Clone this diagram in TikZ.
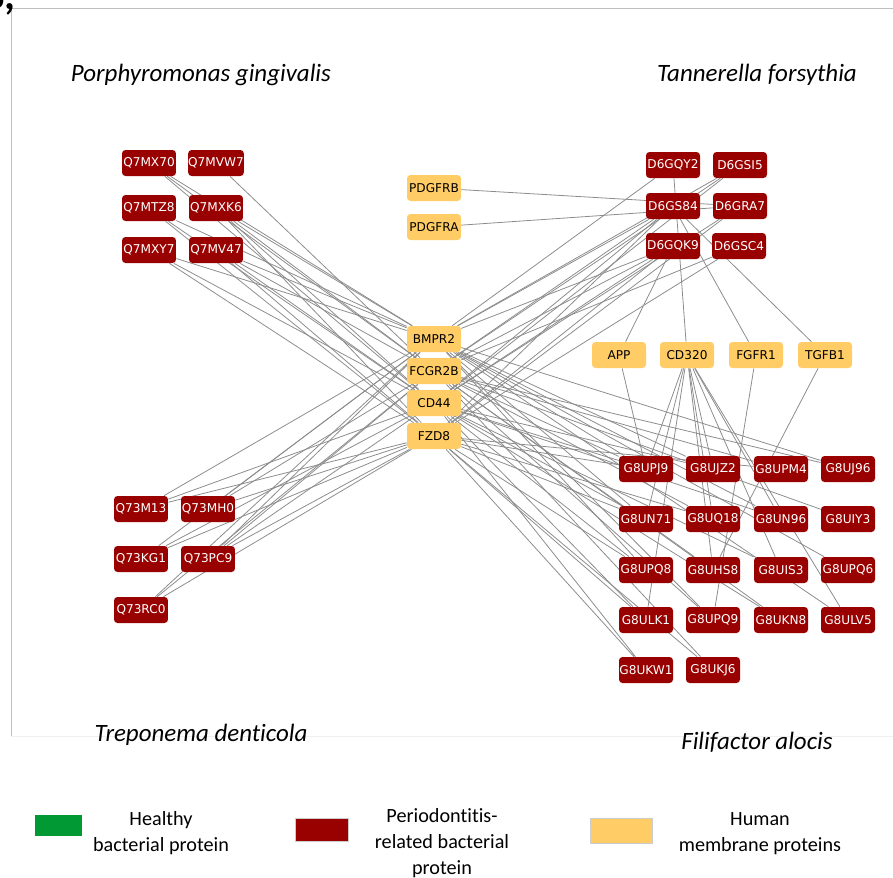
\documentclass[tikz,border=0pt]{standalone}
\usepackage{fontspec}
\setmainfont{Carlito}[Ligatures=NoCommon]
\newfontfamily\lblfont{DejaVu Sans}
\usetikzlibrary{backgrounds}

\definecolor{bactred}{RGB}{153,0,0}
\definecolor{humanyel}{RGB}{255,204,102}
\definecolor{healthygreen}{RGB}{0,153,51}
\definecolor{linkgray}{RGB}{140,140,140}

\begin{document}
\begin{tikzpicture}[x=0.02cm,y=-0.02cm,
    prot/.style={rectangle,rounded corners=2pt,minimum width=1.08cm,minimum height=0.52cm,inner sep=0pt,font=\lblfont\fontsize{6.9}{7}\selectfont},
    bact/.style={prot,fill=bactred,text=white},
    human/.style={prot,fill=humanyel,text=black},
    link/.style={draw=linkgray,line width=0.45pt},
    species/.style={font=\itshape\fontsize{14.2}{16}\selectfont},
    legtext/.style={font=\fontsize{11.5}{14.7}\selectfont,align=center}]
    \useasboundingbox (0,0) rectangle (893,877);

    % panel frame
    \draw [gray!50,line width=0.5pt] (893,8) -- (11,8) -- (11,736);
    \draw [gray!12,line width=0.5pt] (11,736) -- (893,736);
    \node [anchor=base east,inner sep=0pt,font=\bfseries\fontsize{24}{28}\selectfont] (panel) at (16,9) {B,};

    % species
    \node [species] (pging) at (201,75) {Porphyromonas gingivalis};
    \node [species] (tfors) at (757,75) {Tannerella forsythia};
    \node [species] (tdent) at (201,735) {Treponema denticola};
    \node [species] (faloc) at (757,742) {Filifactor alocis};

    % P. gingivalis
    \node [bact] (q7mx70) at (149,163) {Q7MX70};
    \node [bact] (q7mvw7) at (216,163) {Q7MVW7};
    \node [bact] (q7mtz8) at (149,208) {Q7MTZ8};
    \node [bact] (q7mxk6) at (216,208) {Q7MXK6};
    \node [bact] (q7mxy7) at (149,250) {Q7MXY7};
    \node [bact] (q7mv47) at (216,250) {Q7MV47};

    % T. forsythia
    \node [bact] (d6gqy2) at (673,165) {D6GQY2};
    \node [bact] (d6gsi5) at (740,165) {D6GSI5};
    \node [bact] (d6gs84) at (673,206) {D6GS84};
    \node [bact] (d6gra7) at (740,206) {D6GRA7};
    \node [bact] (d6gqk9) at (673,246) {D6GQK9};
    \node [bact] (d6gsc4) at (739,246) {D6GSC4};

    % human membrane proteins
    \node [human] (pdgfrb) at (434,188) {PDGFRB};
    \node [human] (pdgfra) at (434,227) {PDGFRA};
    \node [human] (bmpr2) at (434,339) {BMPR2};
    \node [human] (fcgr2b) at (434,371) {FCGR2B};
    \node [human] (cd44) at (434,403) {CD44};
    \node [human] (fzd8) at (434,436) {FZD8};
    \node [human] (app) at (619,355) {APP};
    \node [human] (cd320) at (687,355) {CD320};
    \node [human] (fgfr1) at (756,355) {FGFR1};
    \node [human] (tgfb1) at (825,355) {TGFB1};

    % T. denticola
    \node [bact] (q73m13) at (141,509) {Q73M13};
    \node [bact] (q73mh0) at (208,509) {Q73MH0};
    \node [bact] (q73kg1) at (141,559) {Q73KG1};
    \node [bact] (q73pc9) at (208,559) {Q73PC9};
    \node [bact] (q73rc0) at (141,610) {Q73RC0};

    % F. alocis
    \node [bact] (g8upj9) at (646,469) {G8UPJ9};
    \node [bact] (g8ujz2) at (713,469) {G8UJZ2};
    \node [bact] (g8upm4) at (781,469) {G8UPM4};
    \node [bact] (g8uj96) at (848,469) {G8UJ96};
    \node [bact] (g8un71) at (646,519) {G8UN71};
    \node [bact] (g8uq18) at (713,519) {G8UQ18};
    \node [bact] (g8un96) at (781,519) {G8UN96};
    \node [bact] (g8uiy3) at (848,519) {G8UIY3};
    \node [bact] (g8upq8) at (646,570) {G8UPQ8};
    \node [bact] (g8uhs8) at (713,570) {G8UHS8};
    \node [bact] (g8uis3) at (781,570) {G8UIS3};
    \node [bact] (g8upq6) at (848,570) {G8UPQ6};
    \node [bact] (g8ulk1) at (646,620) {G8ULK1};
    \node [bact] (g8upq9) at (713,620) {G8UPQ9};
    \node [bact] (g8ukn8) at (781,620) {G8UKN8};
    \node [bact] (g8ulv5) at (848,620) {G8ULV5};
    \node [bact] (g8ukw1) at (646,670) {G8UKW1};
    \node [bact] (g8ukj6) at (713,670) {G8UKJ6};

    \begin{pgfonlayer}{background}
    % P. gingivalis links
    \draw [link] (q7mx70) -- (bmpr2) (q7mx70) -- (fcgr2b) (q7mx70) -- (cd44);
    \draw [link] (q7mvw7) -- (fcgr2b);
    \draw [link] (q7mtz8) -- (bmpr2) (q7mtz8) -- (cd44) (q7mtz8) -- (fzd8);
    \draw [link] (q7mxk6) -- (bmpr2) (q7mxk6) -- (fcgr2b) (q7mxk6) -- (cd44) (q7mxk6) -- (fzd8);
    \draw [link] (q7mxy7) -- (bmpr2) (q7mxy7) -- (cd44) (q7mxy7) -- (fzd8);
    \draw [link] (q7mv47) -- (bmpr2) (q7mv47) -- (fcgr2b) (q7mv47) -- (cd44) (q7mv47) -- (fzd8);
    % T. denticola links
    \draw [link] (q73m13) -- (bmpr2) (q73m13) -- (cd44) (q73m13) -- (fzd8);
    \draw [link] (q73mh0) -- (bmpr2) (q73mh0) -- (fcgr2b) (q73mh0) -- (fzd8);
    \draw [link] (q73kg1) -- (bmpr2) (q73kg1) -- (cd44) (q73kg1) -- (fzd8);
    \draw [link] (q73pc9) -- (bmpr2) (q73pc9) -- (fcgr2b) (q73pc9) -- (cd44) (q73pc9) -- (fzd8);
    \draw [link] (q73rc0) -- (bmpr2) (q73rc0) -- (fcgr2b) (q73rc0) -- (fzd8);
    % T. forsythia links
    \draw [link] (d6gqy2) -- (bmpr2) (d6gqy2) -- (cd320);
    \draw [link] (d6gsi5) -- (bmpr2) (d6gsi5) -- (fcgr2b) (d6gsi5) -- (cd44);
    \draw [link] (d6gs84) -- (bmpr2) (d6gs84) -- (fcgr2b) (d6gs84) -- (cd44) (d6gs84) -- (fzd8);
    \draw [link] (d6gs84) -- (fgfr1) (d6gs84) -- (tgfb1);
    \draw [link] (d6gra7) -- (pdgfrb) (d6gra7) -- (pdgfra) (d6gra7) -- (cd44) (d6gra7) -- (fzd8);
    \draw [link] (d6gqk9) -- (bmpr2) (d6gqk9) -- (fcgr2b) (d6gqk9) -- (cd44) (d6gqk9) -- (fzd8) (d6gqk9) -- (app);
    \draw [link] (d6gsc4) -- (fcgr2b) (d6gsc4) -- (fzd8);
    % F. alocis links
    \draw [link] (g8upj9) -- (bmpr2) (g8upj9) -- (fcgr2b) (g8upj9) -- (cd44) (g8upj9) -- (fzd8);
    \draw [link] (g8upj9) -- (app) (g8upj9) -- (cd320);
    \draw [link] (g8ujz2) -- (bmpr2) (g8ujz2) -- (cd44) (g8ujz2) -- (cd320);
    \draw [link] (g8upm4) -- (fcgr2b) (g8upm4) -- (fzd8);
    \draw [link] (g8uj96) -- (bmpr2) (g8uj96) -- (fcgr2b);
    \draw [link] (g8un71) -- (bmpr2) (g8un71) -- (cd44) (g8un71) -- (fzd8) (g8un71) -- (cd320);
    \draw [link] (g8uq18) -- (fcgr2b) (g8uq18) -- (fzd8) (g8uq18) -- (cd320);
    \draw [link] (g8un96) -- (bmpr2) (g8un96) -- (cd44) (g8un96) -- (cd320);
    \draw [link] (g8uiy3) -- (fcgr2b);
    \draw [link] (g8upq8) -- (bmpr2) (g8upq8) -- (cd44) (g8upq8) -- (fzd8);
    \draw [link] (g8uhs8) -- (fcgr2b) (g8uhs8) -- (cd320) (g8uhs8) -- (tgfb1);
    \draw [link] (g8uis3) -- (cd44) (g8uis3) -- (cd320);
    \draw [link] (g8upq6) -- (bmpr2);
    \draw [link] (g8ulk1) -- (cd44) (g8ulk1) -- (fzd8) (g8ulk1) -- (cd320);
    \draw [link] (g8upq9) -- (bmpr2) (g8upq9) -- (fcgr2b) (g8upq9) -- (fgfr1);
    \draw [link] (g8ukn8) -- (fcgr2b) (g8ukn8) -- (cd44);
    \draw [link] (g8ulv5) -- (bmpr2) (g8ulv5) -- (cd320);
    \draw [link] (g8ukw1) -- (cd44) (g8ukw1) -- (fzd8);
    \draw [link] (g8ukj6) -- (fcgr2b) (g8ukj6) -- (fzd8);
    \end{pgfonlayer}

    % legend
    \fill [healthygreen] (35,815) rectangle (82,836);
    \filldraw [fill=bactred,draw=gray!40] (295,818) rectangle (348,841);
    \filldraw [fill=humanyel,draw=gray!40] (590,818) rectangle (652,843);
    \node [legtext] (leghealthy) at (161,833) {Healthy\\bacterial protein};
    \node [legtext] (legperio) at (442,843) {Periodontitis-\\related bacterial\\protein};
    \node [legtext] (leghuman) at (760,834) {Human\\membrane proteins};
\end{tikzpicture}
\end{document}
